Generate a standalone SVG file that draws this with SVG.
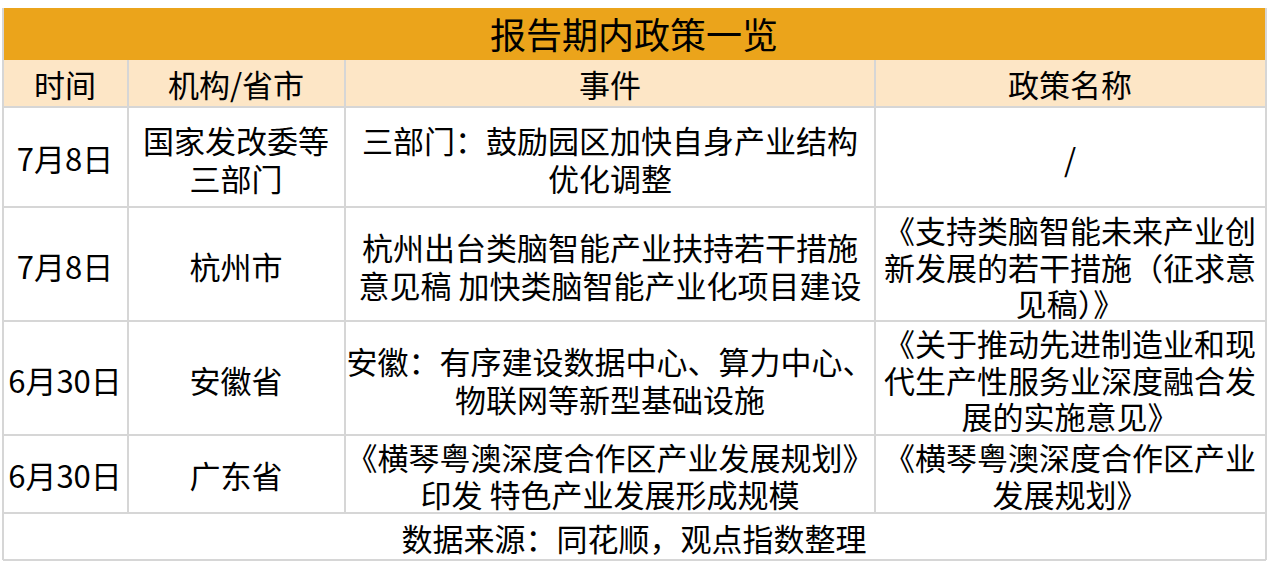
<svg xmlns="http://www.w3.org/2000/svg" width="1269" height="576" viewBox="0 0 1269 576">
<style>
text{font-family:"Noto Sans CJK SC","Liberation Sans",sans-serif;font-size:31px;fill:#000;text-anchor:middle;dominant-baseline:central}
.t{font-size:36px}
.l{stroke:#D6D6D6;stroke-width:2}
</style>
<rect width="1269" height="576" fill="#fff"/>
<g id="title"><rect x="3" y="8" width="1263" height="52" fill="#EBA41B"/><text class="t" x="634" y="33">报告期内政策一览</text></g>
<g id="header"><rect x="3" y="60" width="1263" height="47" fill="#FDE6C6"/>
<text x="65" y="83">时间</text><text x="236" y="83">机构/省市</text><text x="610" y="83">事件</text><text x="1070" y="83">政策名称</text></g>
<g id="grid">
<line class="l" x1="3" y1="107" x2="1266" y2="107"/><line class="l" x1="3" y1="207" x2="1266" y2="207"/>
<line class="l" x1="3" y1="321" x2="1266" y2="321"/><line class="l" x1="3" y1="435" x2="1266" y2="435"/>
<line class="l" x1="3" y1="513" x2="1266" y2="513"/><line class="l" x1="3" y1="560" x2="1266" y2="560"/>
<line class="l" x1="128" y1="60" x2="128" y2="513"/><line class="l" x1="345" y1="60" x2="345" y2="513"/>
<line class="l" x1="875" y1="60" x2="875" y2="513"/>
<line class="l" x1="3" y1="8" x2="3" y2="560"/><line class="l" x1="1266" y1="8" x2="1266" y2="560"/>
</g>
<g id="row1"><text x="65" y="157">7月8日</text><text x="236" y="139">国家发改委等</text><text x="236" y="177">三部门</text>
<text x="610" y="139">三部门：鼓励园区加快自身产业结构</text><text x="610" y="177">优化调整</text><text x="1070" y="158">/</text></g>
<g id="row2"><text x="65" y="265">7月8日</text><text x="236" y="265">杭州市</text>
<text x="610" y="246">杭州出台类脑智能产业扶持若干措施</text><text x="610" y="284">意见稿 加快类脑智能产业化项目建设</text>
<text x="1070" y="229">《支持类脑智能未来产业创</text><text x="1070" y="266">新发展的若干措施（征求意</text><text x="1070" y="302">见稿）》</text></g>
<g id="row3"><text x="65" y="379">6月30日</text><text x="236" y="379">安徽省</text>
<text x="610" y="360">安徽：有序建设数据中心、算力中心、</text><text x="610" y="398">物联网等新型基础设施</text>
<text x="1070" y="342">《关于推动先进制造业和现</text><text x="1070" y="379">代生产性服务业深度融合发</text><text x="1070" y="415">展的实施意见》</text></g>
<g id="row4"><text x="65" y="474">6月30日</text><text x="236" y="474">广东省</text>
<text x="610" y="456">《横琴粤澳深度合作区产业发展规划》</text><text x="610" y="493">印发 特色产业发展形成规模</text>
<text x="1070" y="456">《横琴粤澳深度合作区产业</text><text x="1070" y="493">发展规划》</text></g>
<g id="footer"><text x="634" y="537">数据来源：同花顺，观点指数整理</text></g>
</svg>
